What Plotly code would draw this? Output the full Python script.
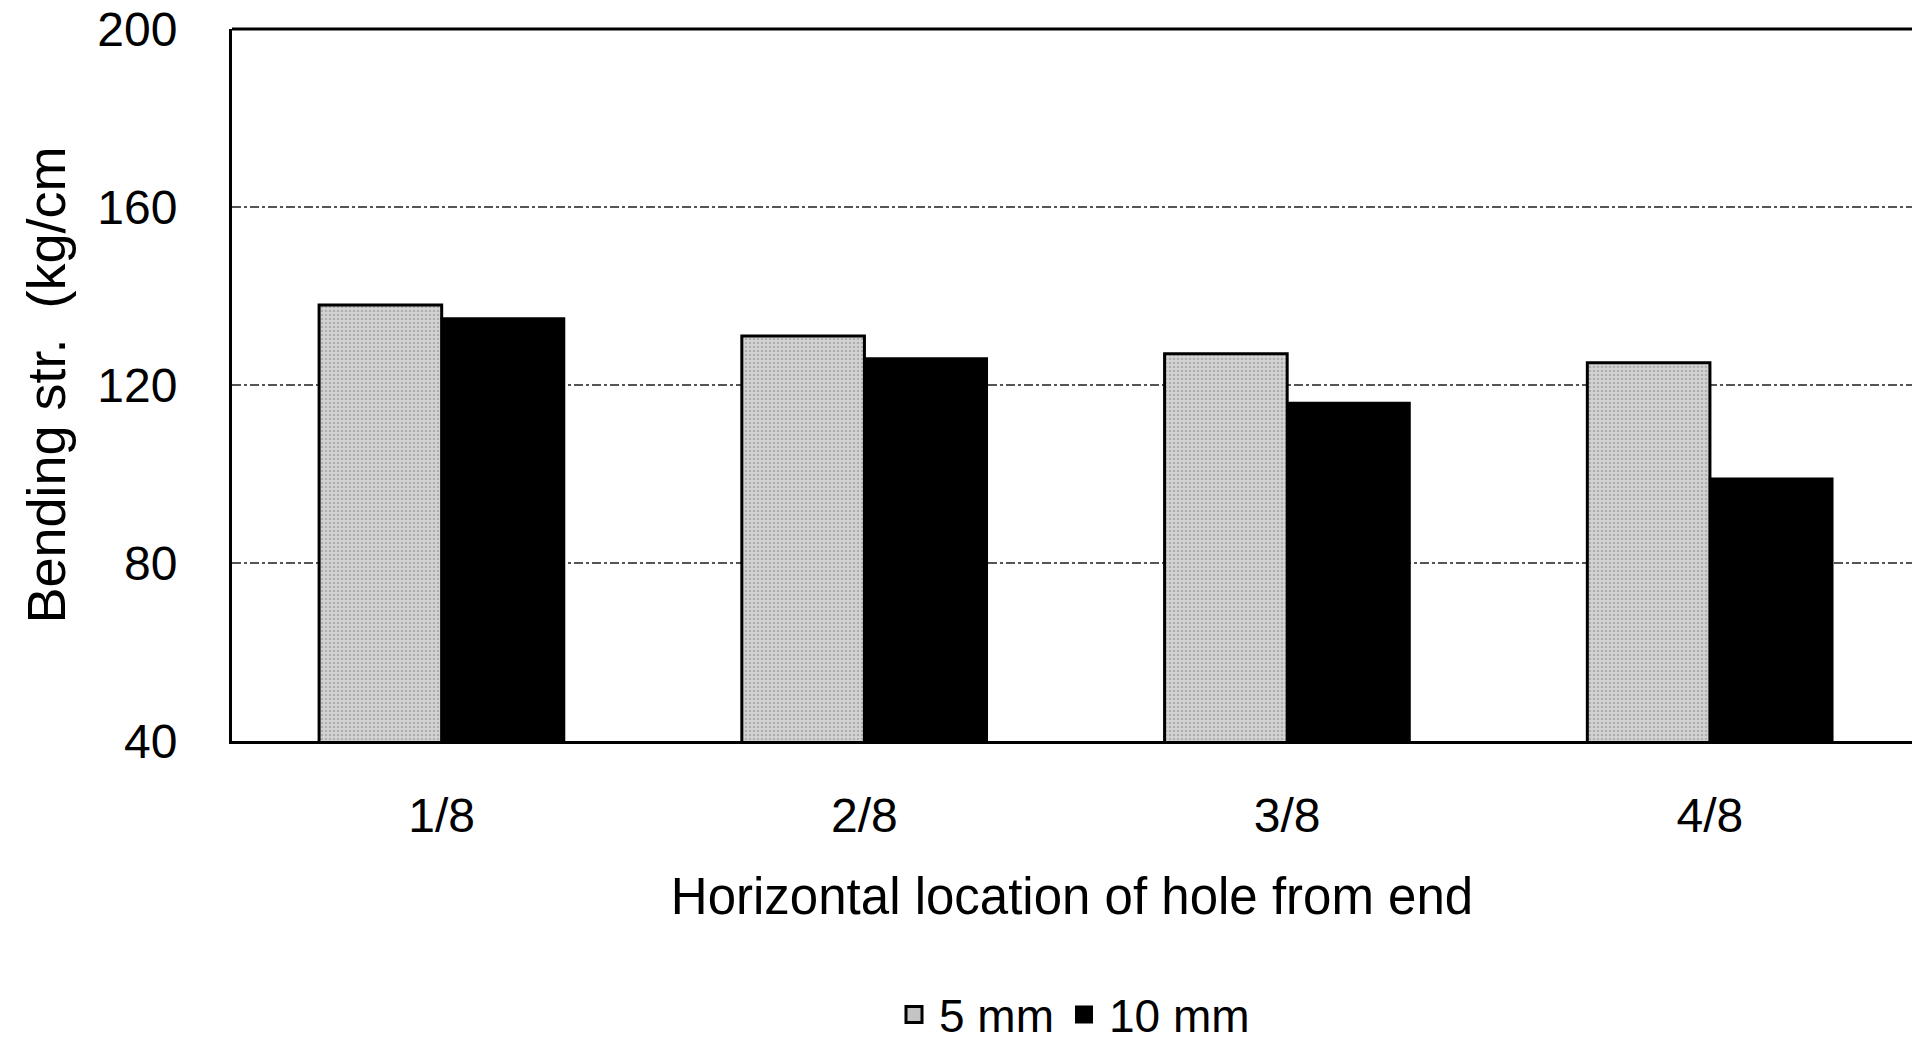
import plotly.graph_objects as go

categories = ["1/8", "2/8", "3/8", "4/8"]
series_5mm = [138, 131, 127, 125]
series_10mm = [135, 126, 116, 99]
y_ticks = [40, 80, 120, 160, 200]
series_names = ["5 mm", "10 mm"]

FONT = "Liberation Sans, Arial, sans-serif"
GRAY = "#c4c4c4"

fig = go.Figure()
fig.add_trace(go.Bar(
    x=categories, y=series_5mm, name=series_names[0], showlegend=False,
    marker=dict(color=GRAY, line=dict(color="black", width=3),
                pattern=dict(shape=".", fgcolor="#8a8a8a", bgcolor="#d4d4d4", size=4, solidity=0.35)),
))
fig.add_trace(go.Bar(
    x=categories, y=series_10mm, name=series_names[1], showlegend=False,
    marker=dict(color="black", line=dict(color="black", width=2)),
))
# legend entries with square swatches
fig.add_trace(go.Scatter(
    x=[None], y=[None], mode="markers", name=series_names[0],
    marker=dict(symbol="square", size=30, color=GRAY, line=dict(color="black", width=3)),
))
fig.add_trace(go.Scatter(
    x=[None], y=[None], mode="markers", name=series_names[1],
    marker=dict(symbol="square", size=30, color="black", line=dict(color="black", width=2)),
))

fig.update_layout(
    width=1912, height=1051,
    margin=dict(l=232, r=0, t=29, b=305),
    paper_bgcolor="white", plot_bgcolor="white",
    barmode="group", bargap=0.42, bargroupgap=0,
    font=dict(family=FONT, color="black"),
    showlegend=True,
    legend=dict(orientation="h", x=0.5, xanchor="center", y=-0.385, yanchor="middle",
                font=dict(family=FONT, size=46), itemwidth=40, traceorder="normal",
                itemsizing="trace", tracegroupgap=0),
)
fig.update_xaxes(
    range=[-0.496, 3.478], showline=True, linecolor="black", linewidth=3,
    ticks="", tickfont=dict(family=FONT, size=48), ticklabelstandoff=30,
    title=dict(text="Horizontal location of hole from end", font=dict(family=FONT, size=51), standoff=38),
    showgrid=False,
)
fig.update_yaxes(
    range=[40, 200], tickvals=y_ticks, showline=True, linecolor="black", linewidth=3,
    ticks="", tickfont=dict(family=FONT, size=48), ticklabelstandoff=42,
    showgrid=True, gridcolor="#555555", gridwidth=1.5, griddash="dashdot",
    title=dict(text="Bending str.  (kg/cm", font=dict(family=FONT, size=54), standoff=15),
    zeroline=False,
)
fig.add_shape(type="line", xref="paper", yref="paper", x0=0, x1=1, y0=1, y1=1,
              line=dict(color="black", width=3))

fig.write_html("out.html")
